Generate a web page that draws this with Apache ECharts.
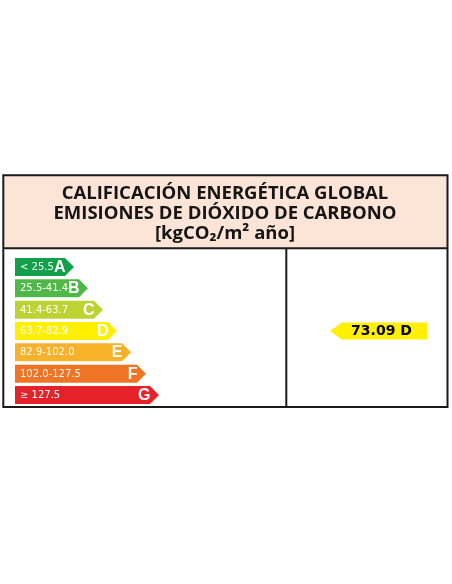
<!DOCTYPE html>
<html>
<head>
<meta charset="utf-8">
<script src="https://cdn.jsdelivr.net/npm/echarts@6/dist/echarts.min.js"></script>
<style>
html,body{margin:0;padding:0;background:#fff;}
#chart{width:452px;height:584px;}
</style>
</head>
<body>
<div id="chart"></div>
<script>
// ---- data ----
const classes = ['A', 'B', 'C', 'D', 'E', 'F', 'G'];
const rangeLabels = ['< 25.5', '25.5-41.4', '41.4-63.7', '63.7-82.9', '82.9-102.0', '102.0-127.5', '≥ 127.5'];
const bandLengths = [59, 73, 88, 102, 116, 131, 144];
const bandColors = ['#12A04B', '#50B848', '#BCD433', '#FFEF00', '#F8B12A', '#EF7425', '#E52129'];
const titleLines = ['CALIFICACIÓN ENERGÉTICA GLOBAL', 'EMISIONES DE DIÓXIDO DE CARBONO', '[kgCO₂/m² año]'];
const ratingValue = 73.09;
const ratingClass = 'D';
const ratingColor = '#FFEF00';

// ---- chart ----
const chart = echarts.init(document.getElementById('chart'), null, {renderer: 'canvas'});

const BAR_H = 18;

const bandData = classes.map((c, i) => [bandLengths[i], i, i]);

const option = {
  backgroundColor: '#ffffff',
  animation: false,
  grid: [
    {left: 15, top: 256.3, width: 144, height: 149.4},
    {left: 330, top: 256.3, width: 97, height: 149.4}
  ],
  xAxis: [
    {gridIndex: 0, type: 'value', min: 0, max: 144, show: false},
    {gridIndex: 1, type: 'value', min: 0, max: 1, show: false}
  ],
  yAxis: [
    {gridIndex: 0, type: 'category', data: classes, inverse: true, show: false},
    {gridIndex: 1, type: 'category', data: classes, inverse: true, show: false}
  ],
  graphic: [
    {type: 'rect', z: 0, shape: {x: 3, y: 175, width: 444, height: 73}, style: {fill: '#FCE4D6'}},
    {type: 'rect', z: 10, shape: {x: 3.3, y: 175.3, width: 444.2, height: 231.7}, style: {fill: 'none', stroke: '#1a1a1a', lineWidth: 2}},
    {type: 'line', z: 10, shape: {x1: 3, y1: 248.3, x2: 447.5, y2: 248.3}, style: {stroke: '#1a1a1a', lineWidth: 2}},
    {type: 'line', z: 10, shape: {x1: 286.3, y1: 248.3, x2: 286.3, y2: 407}, style: {stroke: '#1a1a1a', lineWidth: 2}},
    {type: 'text', z: 11, x: 225, y: 193.5, style: {text: titleLines[0], fill: '#151515', font: 'bold 18.5px "Open Sans"', align: 'center', verticalAlign: 'middle'}},
    {type: 'text', z: 11, x: 225, y: 214, style: {text: titleLines[1], fill: '#151515', font: 'bold 18.5px "Open Sans"', align: 'center', verticalAlign: 'middle'}},
    {type: 'text', z: 11, x: 225, y: 233.5, style: {text: titleLines[2], fill: '#151515', font: 'bold 18.5px "Open Sans"', align: 'center', verticalAlign: 'middle'}}
  ],
  series: [
    {
      type: 'custom',
      xAxisIndex: 0,
      yAxisIndex: 0,
      data: bandData,
      renderItem: function (params, api) {
        const idx = api.value(2);
        const s = api.coord([0, api.value(1)]);
        const e = api.coord([api.value(0), api.value(1)]);
        const h = BAR_H, t = h / 2;
        const y0 = s[1] - h / 2, y1 = s[1] + h / 2;
        return {
          type: 'group',
          children: [
            {type: 'polygon', shape: {points: [[s[0], y0], [e[0] - t, y0], [e[0], s[1]], [e[0] - t, y1], [s[0], y1]]}, style: {fill: bandColors[idx]}},
            {type: 'text', style: {text: rangeLabels[idx], x: s[0] + 5, y: s[1] + 0.5, fill: '#ffffff', font: '10px "DejaVu Sans"', align: 'left', verticalAlign: 'middle'}},
            {type: 'text', style: {text: classes[idx], x: e[0] - 8.5, y: s[1] + 0.5, fill: '#ffffff', font: 'bold 16px "Liberation Sans"', align: 'right', verticalAlign: 'middle'}}
          ]
        };
      }
    },
    {
      type: 'custom',
      xAxisIndex: 1,
      yAxisIndex: 1,
      data: [[0, classes.indexOf(ratingClass)]],
      renderItem: function (params, api) {
        const l = api.coord([0, api.value(1)]);
        const r = api.coord([1, api.value(1)]);
        const h = 17, t = 12;
        const y0 = l[1] - h / 2, y1 = l[1] + h / 2;
        return {
          type: 'group',
          children: [
            {type: 'polygon', shape: {points: [[l[0], l[1]], [l[0] + t, y0], [r[0], y0], [r[0], y1], [l[0] + t, y1]]}, style: {fill: ratingColor}},
            {type: 'text', style: {text: ratingValue.toFixed(2) + ' ' + ratingClass, x: (l[0] + r[0]) / 2 + 3, y: l[1] + 0.5, fill: '#000', font: 'bold 14px "DejaVu Sans"', align: 'center', verticalAlign: 'middle'}}
          ]
        };
      }
    }
  ]
};
chart.setOption(option);
</script>
</body>
</html>
